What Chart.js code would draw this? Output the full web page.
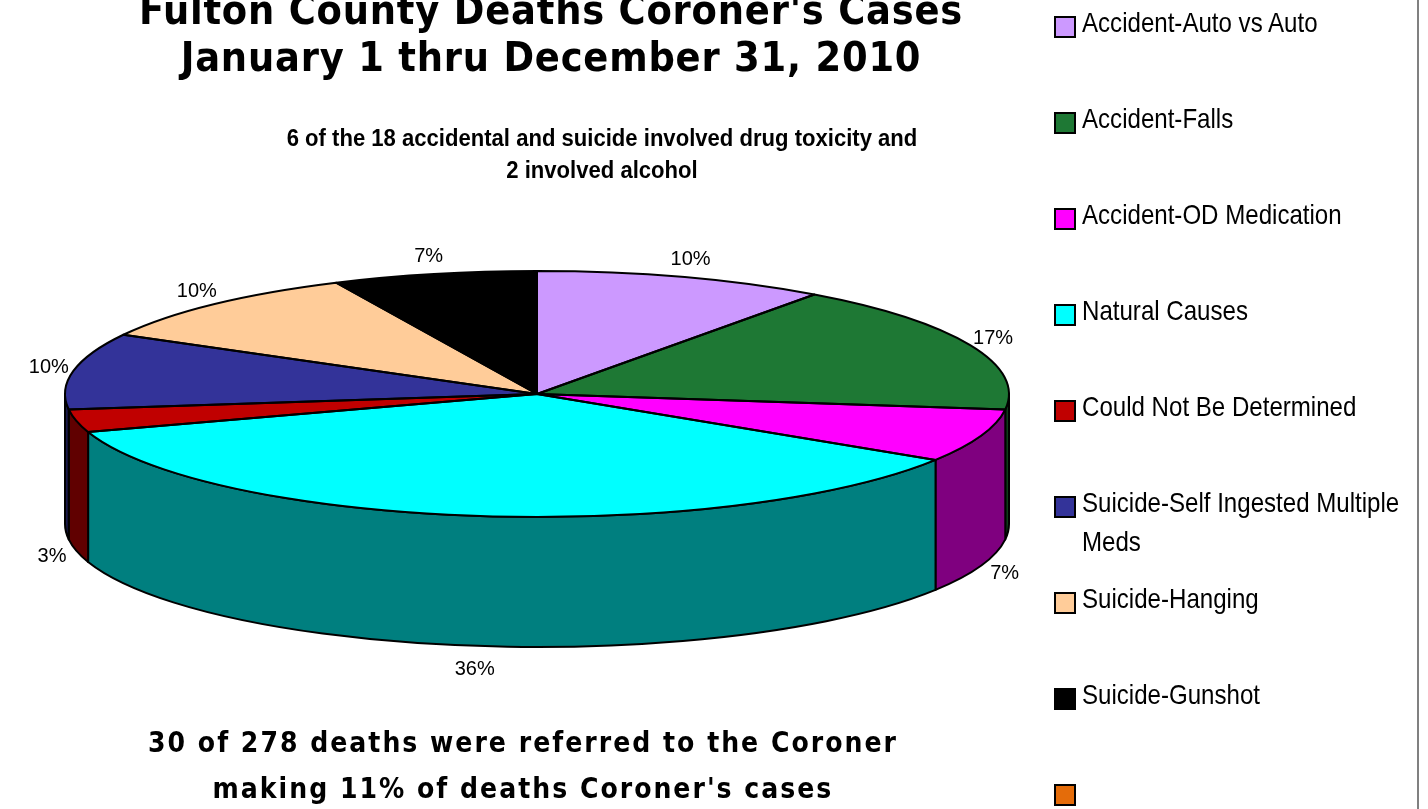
<!DOCTYPE html>
<html>
<head>
<meta charset="utf-8">
<script src="https://cdn.jsdelivr.net/npm/chart.js@4.4.0/dist/chart.umd.min.js"></script>
<style>
  html, body { margin: 0; padding: 0; background: #fff; }
  #wrap { position: relative; width: 1428px; height: 809px; overflow: hidden; background: #fff; }
  #pie { position: absolute; left: 0; top: 0; }
  .big { position: absolute; text-align: center; font-family: "DejaVu Sans Condensed", "DejaVu Sans", sans-serif; font-weight: bold; color: #000; white-space: nowrap; }
  #title { left: 0; width: 1102px; top: -13px; font-size: 41px; line-height: 47px; letter-spacing: 0.8px; }
  #note { left: 0; width: 1046px; top: 720px; font-size: 28px; line-height: 46px; letter-spacing: 2px; }
  #sub { position: absolute; left: 252px; width: 700px; top: 122px; text-align: center; font-family: "Liberation Sans", Arial, sans-serif; font-weight: bold; font-size: 23px; line-height: 32px; transform: scaleX(0.96); }
  #frame { position: absolute; left: 1417px; top: 0; width: 2px; height: 809px; background: #808080; }
  .item { position: absolute; left: 1054px; height: 96px; width: 362px; }
  .item .box { position: absolute; left: 0; top: 13px; width: 22px; height: 22px; box-sizing: border-box; border: 2px solid #000; }
  .item .txt { position: absolute; left: 28px; top: 0; width: 395px; font-family: "Liberation Sans", Arial, sans-serif; font-size: 28px; line-height: 39px; color: #000; transform: scaleX(0.86); transform-origin: 0 0; }
</style>
</head>
<body>
<div id="wrap">
  <canvas id="pie" width="1428" height="809"></canvas>
  <div id="title" class="big">Fulton County Deaths Coroner's Cases<br>January 1 thru December 31, 2010</div>
  <div id="sub">6 of the 18 accidental and suicide involved drug toxicity and<br>2 involved alcohol</div>
  <div id="note" class="big">30 of 278 deaths were referred to the Coroner<br>making 11% of deaths Coroner's cases</div>
  <div id="legend"></div>
  <div id="frame"></div>
</div>
<script>
const categories = [
  "Accident-Auto vs Auto",
  "Accident-Falls",
  "Accident-OD Medication",
  "Natural Causes",
  "Could Not Be Determined",
  "Suicide-Self Ingested Multiple Meds",
  "Suicide-Hanging",
  "Suicide-Gunshot",
  "",
];
const percents = [10, 17, 7, 36, 3, 10, 10, 7, 0];
const sliceColors = ["#CC99FF", "#1E7834", "#FF00FF", "#00FFFF", "#C00000", "#333399", "#FFCC99", "#000000", "#E46C0A"];

// side wall = top colour at half brightness
function darken(hex) {
  const n = parseInt(hex.slice(1), 16);
  const r = (n >> 16) >> 1, g = ((n >> 8) & 255) >> 1, b = (n & 255) >> 1;
  return "rgb(" + r + "," + g + "," + b + ")";
}

// legend
const legend = document.getElementById("legend");
categories.forEach((name, i) => {
  const item = document.createElement("div");
  item.className = "item";
  item.style.top = (3 + i * 96) + "px";
  item.innerHTML = '<div class="box" style="background:' + sliceColors[i] + '"></div><div class="txt"></div>';
  item.querySelector(".txt").textContent = name;
  legend.appendChild(item);
});

// squashes the pie into an ellipse and adds the front wall
const pie3d = {
  id: "pie3d",
  beforeDatasetsDraw(chart, args, opts) {
    const ctx = chart.ctx, area = chart.chartArea;
    const arcs = chart.getDatasetMeta(0).data;
    const cx = arcs[0].x, cy = arcs[0].y, r = arcs[0].outerRadius;
    const rx = (area.right - area.left) / 2, ry = (area.bottom - area.top) / 2;
    ctx.save();
    ctx.lineWidth = 2;
    ctx.lineJoin = "round";
    ctx.strokeStyle = "#000";
    arcs.forEach((arc, i) => {
      const a0 = Math.max(arc.startAngle, 0), a1 = Math.min(arc.endAngle, Math.PI);
      if (a1 <= a0) return;
      ctx.beginPath();
      ctx.ellipse(cx, cy, rx, ry, 0, a0, a1);
      ctx.ellipse(cx, cy + opts.depth, rx, ry, 0, a1, a0, true);
      ctx.closePath();
      ctx.fillStyle = darken(sliceColors[i]);
      ctx.fill();
      ctx.stroke();
    });
    ctx.restore();
    ctx.save();
    ctx.translate(cx, cy);
    ctx.scale(rx / r, ry / r);
    ctx.translate(-cx, -cy);
  },
  afterDatasetsDraw(chart, args, opts) {
    const ctx = chart.ctx, area = chart.chartArea;
    ctx.restore();
    const arcs = chart.getDatasetMeta(0).data;
    const cx = arcs[0].x, cy = arcs[0].y;
    const rx = (area.right - area.left) / 2, ry = (area.bottom - area.top) / 2;
    ctx.save();
    ctx.lineWidth = 2;
    ctx.lineJoin = "round";
    ctx.strokeStyle = "#000";
    arcs.forEach((arc) => {
      if (arc.endAngle <= arc.startAngle) return;
      ctx.beginPath();
      ctx.moveTo(cx, cy);
      ctx.ellipse(cx, cy, rx, ry, 0, arc.startAngle, arc.endAngle);
      ctx.closePath();
      ctx.stroke();
    });
    ctx.fillStyle = "#000";
    ctx.font = "20px 'Liberation Sans', Arial, sans-serif";
    ctx.textAlign = "center";
    ctx.textBaseline = "middle";
    arcs.forEach((arc, i) => {
      if (!percents[i]) return;
      const mid = (arc.startAngle + arc.endAngle) / 2;
      const s = Math.sin(mid);
      const x = cx + (rx + 25) * Math.cos(mid);
      const y = s > 0 ? cy + (ry + 24) * s + opts.depth : cy + (ry + 18) * s;
      ctx.fillText(percents[i] + "%", x, y);
    });
    ctx.restore();
  },
};

const ctx = document.getElementById("pie").getContext("2d");
new Chart(ctx, {
  type: "pie",
  data: {
    labels: categories,
    datasets: [
      {
        data: percents,
        backgroundColor: sliceColors,
        borderWidth: 0,
        clip: false,
      },
    ],
  },
  options: {
    responsive: false,
    animation: false,
    events: [],
    layout: { padding: { left: 65, right: 419, top: 271, bottom: 292 } },
    plugins: {
      legend: { display: false },
      tooltip: { enabled: false },
      pie3d: { depth: 130 },
    },
  },
  plugins: [pie3d],
});
</script>
</body>
</html>
